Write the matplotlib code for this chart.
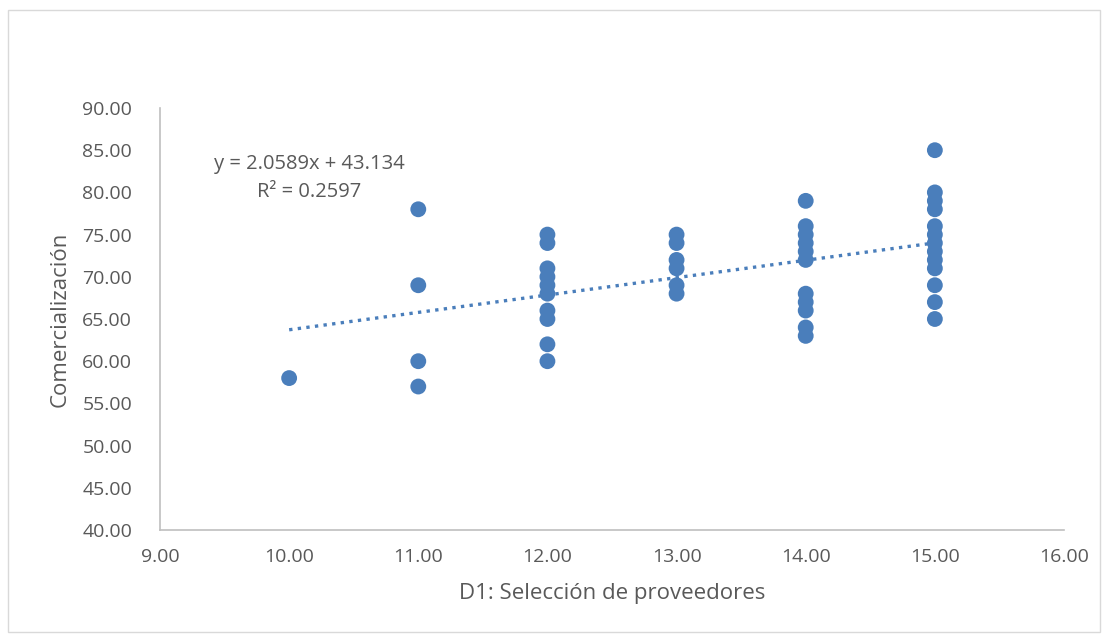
import matplotlib
matplotlib.use('Agg')
import matplotlib.pyplot as plt
from matplotlib.patches import Rectangle

# ---------------------------------------------------------------------------
# Data (x = D1 score, y = Comercialización)
# ---------------------------------------------------------------------------
x_10 = [10]
y_10 = [58]
x_11 = [11] * 4
y_11 = [78, 69, 60, 57]
x_12 = [12] * 10
y_12 = [75, 74, 71, 70, 69, 68, 66, 65, 62, 60]
x_13 = [13] * 6
y_13 = [75, 74, 72, 71, 69, 68]
x_14 = [14] * 11
y_14 = [79, 76, 75, 74, 73, 72, 68, 67, 66, 64, 63]
x_15 = [15] * 13
y_15 = [85, 80, 79, 78, 76, 75, 74, 73, 72, 71, 69, 67, 65]

x_all = x_10 + x_11 + x_12 + x_13 + x_14 + x_15
y_all = y_10 + y_11 + y_12 + y_13 + y_14 + y_15

# Trend line coefficients as printed on the chart
SLOPE = 2.0589
INTERCEPT = 43.134
R2 = 0.2597
trend_x = [10, 15]

x_ticks = [9, 10, 11, 12, 13, 14, 15, 16]
y_ticks = [40, 45, 50, 55, 60, 65, 70, 75, 80, 85, 90]

BLUE = '#4a7ebb'
GRAY = '#595959'

plt.rcParams['font.family'] = ['Open Sans', 'DejaVu Sans']

fig = plt.figure(figsize=(11.08, 6.4), dpi=100)
ax = fig.add_axes([160 / 1108, 1 - 530 / 640, (1064 - 160) / 1108, (530 - 108) / 640])

# outer chart border
fig.patches.append(Rectangle((8 / 1108, 8 / 640), 1092 / 1108, 622 / 640,
                             transform=fig.transFigure, fill=False,
                             edgecolor='#d9d9d9', linewidth=1.0))

ax.plot(trend_x, [SLOPE * v + INTERCEPT for v in trend_x],
        linestyle=(0, (1, 1.6)), color=BLUE, linewidth=2.4, zorder=2)
ax.scatter(x_all, y_all, s=130, color=BLUE, edgecolors='none', zorder=3)

# trendline label
ax.annotate(f'y = {SLOPE}x + {INTERCEPT}\nR² = {R2}', xy=(309 / 1108, 1 - 178 / 640),
            xycoords='figure fraction', ha='center', va='center',
            fontsize=14.5, color=GRAY, linespacing=1.5)

ax.set_xlim(9, 16)
ax.set_ylim(40, 90)
ax.set_xticks(x_ticks)
ax.set_yticks(y_ticks)
ax.set_xticklabels([f'{v:.2f}' for v in x_ticks])
ax.set_yticklabels([f'{v:.2f}' for v in y_ticks])
ax.tick_params(length=0, labelsize=14, labelcolor=GRAY)
ax.tick_params(axis='y', pad=20)
ax.tick_params(axis='x', pad=13)

for side in ('top', 'right'):
    ax.spines[side].set_visible(False)
for side in ('left', 'bottom'):
    ax.spines[side].set_color('#bfbfbf')
    ax.spines[side].set_linewidth(1.2)

ax.set_xlabel('D1: Selección de proveedores', fontsize=16, color=GRAY, labelpad=12)
ax.set_ylabel('Comercialización', fontsize=16, color=GRAY, labelpad=8)

fig.savefig('out.png', dpi=100)
